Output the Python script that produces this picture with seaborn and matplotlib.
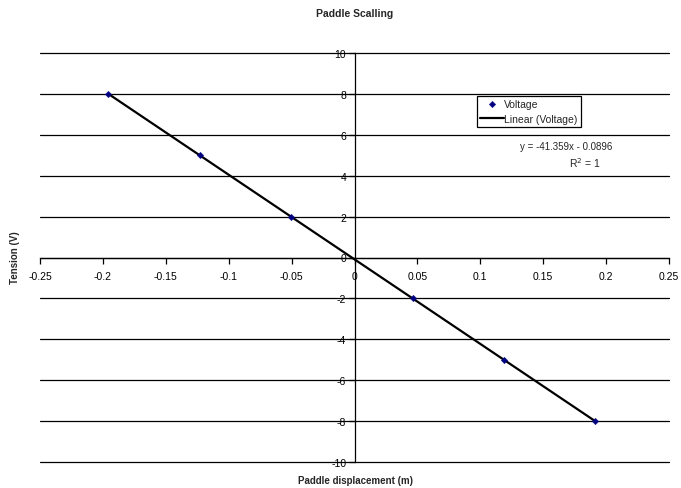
import numpy as np
import pandas as pd
import matplotlib
matplotlib.use("Agg")
import matplotlib.pyplot as plt
import seaborn as sns

displacement = [-0.1956, -0.1231, -0.0505, 0.0462, 0.1187, 0.1913]
voltage = [8, 5, 2, -2, -5, -8]
x_ticks = [-0.25, -0.2, -0.15, -0.1, -0.05, 0, 0.05, 0.1, 0.15, 0.2, 0.25]
x_ticklabels = ["-0.25", "-0.2", "-0.15", "-0.1", "-0.05", "0", "0.05", "0.1", "0.15", "0.2", "0.25"]
y_ticks = [-10, -8, -6, -4, -2, 0, 2, 4, 6, 8, 10]

sns.set_style("white")
plt.rcParams['font.family'] = ['Liberation Sans', 'DejaVu Sans']

df = pd.DataFrame({"x": displacement, "y": voltage})
slope, intercept = np.polyfit(df["x"], df["y"], 1)
fit = pd.DataFrame({"x": [min(displacement), max(displacement)]})
fit["y"] = slope * fit["x"] + intercept

fig = plt.figure(figsize=(6.81, 4.89), dpi=100)
ax = fig.add_axes([40/681, 1-463/489, 629/681, 409/489])

for yv in y_ticks:
    ax.axhline(yv, color="black", lw=0.9, zorder=0, clip_on=False)

sns.lineplot(data=fit, x="x", y="y", ax=ax, color="black", lw=1.6, label="Linear (Voltage)", zorder=3)
sns.scatterplot(data=df, x="x", y="y", ax=ax, marker="D", s=11, color="#000080",
                edgecolor="#000080", label="Voltage", zorder=4)

ax.set_xlim(-0.25, 0.25)
ax.set_ylim(-10, 10)
ax.set_xticks(x_ticks)
ax.set_xticklabels(x_ticklabels)
ax.set_yticks(y_ticks)
ax.set_yticklabels([str(v) for v in y_ticks])

ax.spines['left'].set_position(('data', 0))
ax.spines['bottom'].set_position(('data', 0))
ax.spines['top'].set_visible(False)
ax.spines['right'].set_visible(False)
for s in ['left', 'bottom']:
    ax.spines[s].set_color('black')
    ax.spines[s].set_linewidth(0.9)
ax.tick_params(axis='both', direction='out', length=4, width=0.9, color='black',
               labelsize=7.5, labelcolor='black', pad=2, bottom=True, left=True)
ax.tick_params(axis='x', pad=6)

ax.set_xlabel("")
ax.set_ylabel("")
fig.text(355/681, 1-481/489, "Paddle displacement (m)", ha="center", va="center",
         fontsize=7, fontweight="bold")
fig.text(15/681, 1-258/489, "Tension (V)", ha="center", va="center", rotation=90,
         fontsize=7, fontweight="bold")
fig.text(355/681, 1-14/489, "Paddle Scalling", ha="center", va="center",
         fontsize=7.5, fontweight="bold")

handles, labels = ax.get_legend_handles_labels()
order = [labels.index("Voltage"), labels.index("Linear (Voltage)")]
leg = ax.legend([handles[i] for i in order], [labels[i] for i in order],
                loc="upper left", bbox_to_anchor=((477-40)/629, (463-97)/409),
                fontsize=7.5, frameon=True, fancybox=False, edgecolor="black",
                framealpha=1, borderpad=0.3, labelspacing=0.45, handlelength=2.3,
                handletextpad=0.0, borderaxespad=0)
leg.get_frame().set_linewidth(0.9)

ax.text((612-40)/629, (463-147)/409, "y = -41.359x - 0.0896", transform=ax.transAxes,
        ha="right", va="center", fontsize=7)
ax.text((601-40)/629, (463-163)/409, "R$^2$ = 1", transform=ax.transAxes,
        ha="right", va="center", fontsize=7.5)

fig.savefig("out.png", dpi=100)
